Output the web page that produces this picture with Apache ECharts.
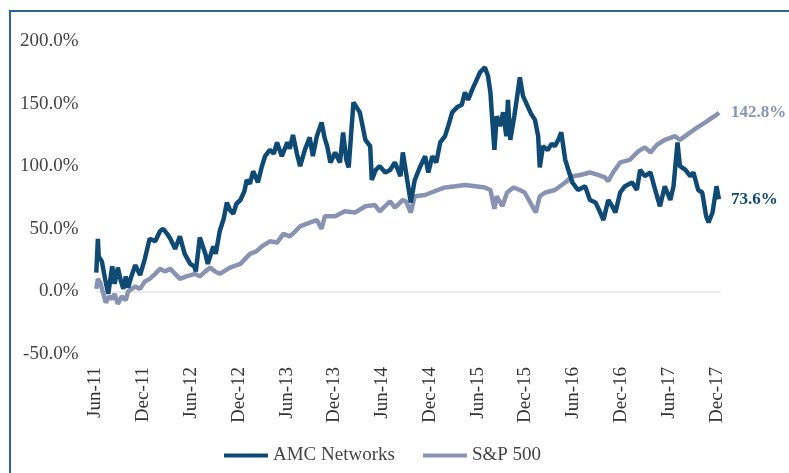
<!DOCTYPE html>
<html>
<head>
<meta charset="utf-8">
<script src="https://cdn.jsdelivr.net/npm/echarts@6/dist/echarts.min.js"></script>
<style>
html, body { margin: 0; padding: 0; background: #fff; }
#chart { width: 789px; height: 473px; }
</style>
</head>
<body>
<div id="chart"></div>
<script>
// months since Jun-11, tick labels every 6 months
var tickLabels = ['Jun-11', 'Dec-11', 'Jun-12', 'Dec-12', 'Jun-13', 'Dec-13', 'Jun-14',
	'Dec-14', 'Jun-15', 'Dec-15', 'Jun-16', 'Dec-16', 'Jun-17', 'Dec-17'];

// AMC Networks cumulative return (%)
var amcMonths = [0.1, 0.3, 0.4, 0.8, 1.2, 1.6, 2.1, 2.4, 2.8, 3.2, 3.5, 3.8, 4.1, 4.5, 5.0, 5.6, 6.2, 6.8, 7.5, 8.1,
	8.5, 9.0, 9.4, 10.0, 10.6, 11.2, 11.9, 12.4, 12.6, 13.1, 13.8, 14.1, 14.8, 15.1, 15.6, 16.1, 16.5, 16.9, 17.3, 17.7,
	18.2, 18.7, 19.0, 19.4, 19.8, 20.4, 20.9, 21.3, 21.9, 22.4, 22.8, 23.4, 24.1, 24.4, 24.8, 25.3, 25.7, 26.3, 26.9, 27.3,
	27.8, 28.4, 28.8, 29.1, 29.5, 30.1, 30.7, 31.1, 31.5, 31.8, 32.4, 32.9, 33.2, 33.9, 34.5, 34.7, 35.2, 35.7, 36.4, 37.0,
	37.6, 38.3, 38.6, 39.0, 39.6, 40.1, 40.8, 41.4, 41.8, 42.3, 42.8, 43.3, 43.9, 44.3, 44.8, 45.4, 46.0, 46.4, 46.8, 47.3,
	47.8, 48.3, 48.9, 49.3, 49.6, 49.8, 50.1, 50.4, 50.8, 51.2, 51.6, 51.8, 52.1, 52.6, 52.9, 53.3, 53.7, 54.2, 54.7, 55.2,
	55.6, 55.8, 56.2, 56.8, 57.3, 57.7, 58.2, 58.5, 59.0, 59.4, 59.9, 60.6, 61.5, 62.1, 62.8, 63.4, 63.8, 64.4, 64.9, 65.3,
	65.9, 66.5, 67.4, 68.0, 68.4, 69.0, 69.7, 70.3, 70.9, 71.5, 72.2, 72.6, 73.1, 73.4, 74.1, 74.7, 75.1, 75.7, 76.2, 76.7,
	77.0, 77.5, 78.0, 78.3];
var amcValues = [15, 42, 28, 24, 10, -2, 20, 6, 19, 8, 2, 12, 3, 12, 21, 13, 26, 42, 40, 48,
	50, 46, 42, 34, 44, 30, 22, 20, 16, 43, 30, 22, 36, 30, 48, 58, 71, 65, 62, 70,
	73, 80, 89, 86, 96, 87, 100, 108, 113, 110, 119, 108, 119, 114, 125, 110, 100, 113, 123, 108,
	124, 135, 122, 116, 103, 111, 103, 127, 105, 99, 151, 146, 143, 121, 116, 89, 97, 100, 95, 97,
	103, 92, 111, 95, 71, 89, 100, 108, 95, 108, 103, 119, 124, 132, 143, 147, 149, 159, 153, 161,
	168, 175, 179, 172, 159, 140, 113, 140, 132, 143, 124, 153, 121, 140, 153, 171, 156, 149, 142, 137,
	124, 99, 116, 113, 118, 116, 122, 127, 105, 97, 87, 81, 84, 73, 71, 63, 57, 73, 68, 63,
	79, 84, 87, 81, 97, 92, 95, 81, 68, 84, 73, 84, 119, 100, 97, 92, 95, 81, 79, 60,
	55, 63, 84, 73.6];

// S&P 500 cumulative return (%)
var spxMonths = [0.1, 0.3, 0.6, 0.9, 1.3, 1.7, 2.1, 2.4, 2.8, 3.3, 3.8, 4.1, 5.0, 5.6, 6.2, 6.8, 7.5, 8.1, 8.7, 9.4,
	10.0, 10.6, 11.4, 12.5, 13.1, 13.8, 14.4, 15.0, 15.6, 16.9, 18.2, 18.8, 19.4, 20.2, 20.9, 21.9, 22.8, 23.6, 24.4, 25.1,
	25.7, 26.9, 27.8, 28.4, 28.8, 30.1, 31.3, 32.6, 33.9, 35.1, 35.7, 37.0, 37.6, 38.6, 39.0, 39.6, 40.1, 41.4, 42.6, 43.9,
	45.2, 46.4, 47.7, 48.9, 49.6, 50.1, 50.4, 51.1, 51.7, 52.5, 53.3, 53.9, 54.6, 55.3, 55.8, 56.5, 57.7, 59.0, 59.9, 60.9,
	62.1, 63.1, 64.0, 64.4, 65.0, 65.9, 67.1, 68.2, 69.0, 69.7, 70.5, 71.5, 72.8, 73.4, 74.7, 75.6, 76.6, 77.5, 78.0, 78.3];
var spxValues = [2, 10, 7, 0, -9, -4, -6, -2, -10, -4, -7, 0, 4, 2, 8, 10, 14, 18, 16, 18,
	14, 10, 12, 14, 12, 16, 19, 16, 14, 19, 22, 26, 30, 32, 36, 40, 39, 46, 44, 48,
	52, 55, 57, 50, 60, 60, 64, 63, 68, 69, 64, 72, 67, 73, 72, 63, 76, 77, 80, 83,
	84, 85, 84, 83, 81, 66, 76, 68, 79, 83, 81, 79, 71, 63, 76, 79, 81, 87, 92, 93,
	95, 93, 91, 88, 95, 103, 105, 112, 115, 111, 117, 121, 124, 121, 127, 131, 135, 139, 141, 142.8];

function zip(xs, ys) {
	var out = [];
	for (var i = 0; i < xs.length; i++) {
		out.push([xs[i], ys[i]]);
	}
	return out;
}

var amcColor = '#0f4a74';
var spxColor = '#8893b2';
var font = 'Liberation Serif';

var myChart = echarts.init(document.getElementById('chart'));
var option = {
	animation: false,
	backgroundColor: '#fff',
	textStyle: { fontFamily: font },
	graphic: [{
		type: 'rect',
		silent: true,
		z: -1,
		shape: { x: 10, y: 11, width: 800, height: 500 },
		style: { fill: 'none', stroke: '#2b6698', lineWidth: 2 }
	}],
	grid: { left: 95.5, right: 68.5, top: 41, bottom: 119 },
	legend: {
		data: ['AMC Networks', 'S&P 500'],
		left: 219,
		top: 441,
		icon: 'rect',
		itemWidth: 44,
		itemHeight: 4,
		itemGap: 28,
		formatter: '{n|{name}}',
		textStyle: {
			fontFamily: font,
			fontSize: 19,
			color: '#444',
			rich: { n: { fontFamily: font, fontSize: 19, color: '#444' } }
		}
	},
	xAxis: {
		type: 'value',
		min: 0,
		max: 78.5,
		interval: 6,
		axisLine: { show: false },
		axisTick: { show: false },
		splitLine: { show: false },
		axisLabel: {
			rotate: 90,
			margin: 13,
			fontSize: 19,
			color: '#333',
			fontFamily: font,
			showMaxLabel: false,
			formatter: function(v) {
				var i = v / 6;
				return (i === Math.round(i) && tickLabels[i]) ? tickLabels[i] : '';
			}
		}
	},
	yAxis: {
		type: 'value',
		min: -50,
		max: 200,
		interval: 50,
		axisLine: { show: false },
		axisTick: { show: false },
		splitLine: {
			show: true,
			lineStyle: { color: ['transparent', '#e4e4e4', 'transparent', 'transparent', 'transparent', 'transparent'], width: 1.5 }
		},
		axisLabel: {
			margin: 17,
			fontSize: 19,
			color: '#444',
			fontFamily: font,
			formatter: function(v) { return v.toFixed(1) + '%'; }
		}
	},
	series: [{
		name: 'AMC Networks',
		type: 'line',
		z: 3,
		showSymbol: false,
		symbol: 'none',
		color: amcColor,
		lineStyle: { width: 4.5, color: amcColor },
		data: zip(amcMonths, amcValues),
		endLabel: {
			show: true,
			distance: 12,
			fontSize: 17,
			fontWeight: 'bold',
			fontFamily: font,
			color: amcColor,
			formatter: function(p) { return p.value[1].toFixed(1) + '%'; }
		}
	}, {
		name: 'S&P 500',
		type: 'line',
		z: 2,
		showSymbol: false,
		symbol: 'none',
		color: spxColor,
		lineStyle: { width: 4.5, color: spxColor },
		data: zip(spxMonths, spxValues),
		endLabel: {
			show: true,
			distance: 12,
			fontSize: 17,
			fontWeight: 'bold',
			fontFamily: font,
			color: spxColor,
			formatter: function(p) { return p.value[1].toFixed(1) + '%'; }
		}
	}]
};
myChart.setOption(option);
</script>
</body>
</html>
